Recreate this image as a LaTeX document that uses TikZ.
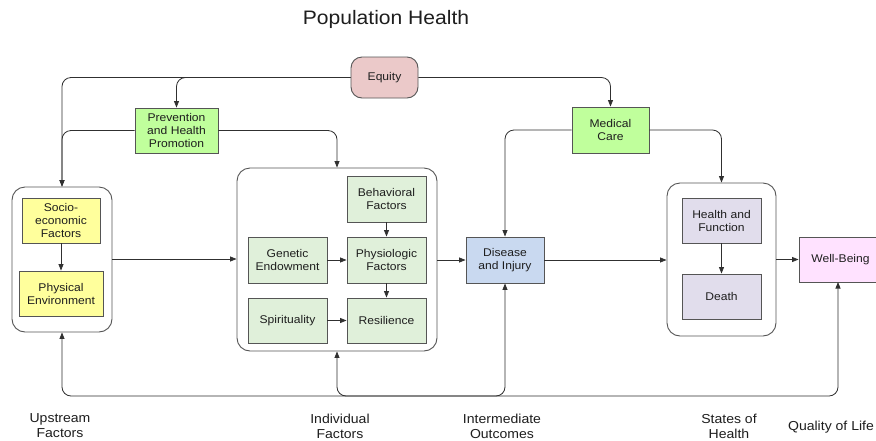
\documentclass[tikz,border=0pt]{standalone}
\usepackage{fontspec}
\setmainfont{Liberation Sans}[FakeStretch=1.08]
\usetikzlibrary{arrows.meta}
\definecolor{eqfill}{HTML}{EBC9C9}
\definecolor{progfill}{HTML}{C0FF9C}
\definecolor{yelfill}{HTML}{FFFF9C}
\definecolor{indfill}{HTML}{E0F0DA}
\definecolor{disfill}{HTML}{C9D9F0}
\definecolor{hlthfill}{HTML}{E1DDEC}
\definecolor{wbfill}{HTML}{FFE2FF}
\definecolor{edgegray}{HTML}{555555}
\definecolor{linegray}{HTML}{303030}
\definecolor{txt}{HTML}{1E1E1E}
\tikzset{
  box/.style={draw=edgegray, line width=0.9pt, text=txt, align=center,
    font=\fontsize{11.2}{13}\selectfont, inner sep=1pt},
  group/.style={draw=edgegray, line width=0.9pt, rounded corners=13pt},
  conn/.style={draw=linegray, line width=0.8pt, rounded corners=9pt,
    -{Triangle[length=6.5pt,width=5pt]}},
  bothway/.style={conn, {Triangle[length=6.5pt,width=5pt]}-{Triangle[length=6.5pt,width=5pt]}},
  caption/.style={text=txt, align=center, font=\fontsize{13}{15}\selectfont}
}
\begin{document}
\begin{tikzpicture}[x=1pt,y=-1pt]
\useasboundingbox (0,0) rectangle (876,440);
\clip (0,0) rectangle (876,440);
\fill[white] (0,0) rectangle (876,440);

% heading
\node[text=txt, font=\fontsize{19.5}{22}\selectfont] (title) at (386,19) {Population Health};

% top-level influences
\node[box, fill=eqfill, rounded corners=11pt, minimum width=67pt, minimum height=41pt] (equity) at (384.5,77.5) {Equity};
\node[box, fill=progfill, minimum width=83pt, minimum height=45pt] (prev) at (176.5,130.5) {Prevention\\and Health\\Promotion};
\node[box, fill=progfill, minimum width=77pt, minimum height=46pt] (med) at (610.5,130) {Medical\\Care};

% upstream factors
\node[group, minimum width=100pt, minimum height=145pt] (ups) at (62,259.5) {};
\node[box, fill=yelfill, minimum width=78pt, minimum height=45pt] (socio) at (61,220.5) {Socio-\\economic\\Factors};
\node[box, fill=yelfill, minimum width=84pt, minimum height=45pt] (phys) at (61,293.5) {Physical\\Environment};

% individual factors
\node[group, minimum width=200pt, minimum height=183pt] (ind) at (337,259.5) {};
\node[box, fill=indfill, minimum width=79pt, minimum height=46pt] (behav) at (386.5,199) {Behavioral\\Factors};
\node[box, fill=indfill, minimum width=79pt, minimum height=46pt] (gen) at (287.5,260) {Genetic\\Endowment};
\node[box, fill=indfill, minimum width=79pt, minimum height=46pt] (physio) at (386.5,260) {Physiologic\\Factors};
\node[box, fill=indfill, minimum width=79pt, minimum height=45pt] (spirit) at (287.5,320.5) {Spirituality};
\node[box, fill=indfill, minimum width=79pt, minimum height=45pt] (resil) at (386.5,320.5) {Resilience};

% intermediate outcomes
\node[box, fill=disfill, minimum width=78pt, minimum height=46pt] (dis) at (505,260) {Disease\\and Injury};

% states of health
\node[group, minimum width=109pt, minimum height=153pt] (states) at (721.5,259.5) {};
\node[box, fill=hlthfill, minimum width=79pt, minimum height=45pt] (hf) at (721.5,220.5) {Health and\\Function};
\node[box, fill=hlthfill, minimum width=79pt, minimum height=45pt] (death) at (721.5,296.5) {Death};

% quality of life (box runs past the right edge)
\node[box, fill=wbfill, minimum width=83pt, minimum height=45pt] (wb) at (840.5,259.5) {Well-Being};
\coordinate (wbin) at (838,282);

% connectors from equity and programmes
\draw[conn] (equity.west) -| (ups.north);
\draw[conn] (equity.west) -| (prev.north);
\draw[conn] (equity.east) -| (med.north);
\draw[conn] (prev.west) -| (ups.north);
\draw[conn] (prev.east) -| (ind.north);
\draw[conn] (med.west) -| (dis.north);
\draw[conn] (med.east) -| (states.north);

% main chain
\draw[conn] (ups.east |- 0,259) -- (ind.west |- 0,259);
\draw[conn] (ind.east |- 0,260) -- (dis.west);
\draw[conn] (dis.east) -- (states.west |- 0,260);
\draw[conn] (states.east |- 0,259.5) -- (wb.west);

% links inside the groups
\draw[conn] (socio) -- (phys);
\draw[conn] (behav) -- (physio);
\draw[conn] (gen) -- (physio);
\draw[conn] (physio) -- (resil);
\draw[conn] (spirit) -- (resil);
\draw[conn] (hf) -- (death);

% feedback along the bottom
\coordinate (fb) at (0,396);
\draw[bothway] (ups.south) -- (ups.south |- fb) -| (wbin);
\draw[bothway] (ind.south) -- (ind.south |- fb) -| (dis.south);

% stage captions
\node[caption] (c1) at (60,426) {Upstream\\Factors};
\node[caption] (c2) at (340,426) {Individual\\Factors};
\node[caption] (c3) at (502,426) {Intermediate\\Outcomes};
\node[caption] (c4) at (729,426) {States of\\Health};
\node[caption] (c5) at (831,427) {Quality of Life};
\end{tikzpicture}
\end{document}
